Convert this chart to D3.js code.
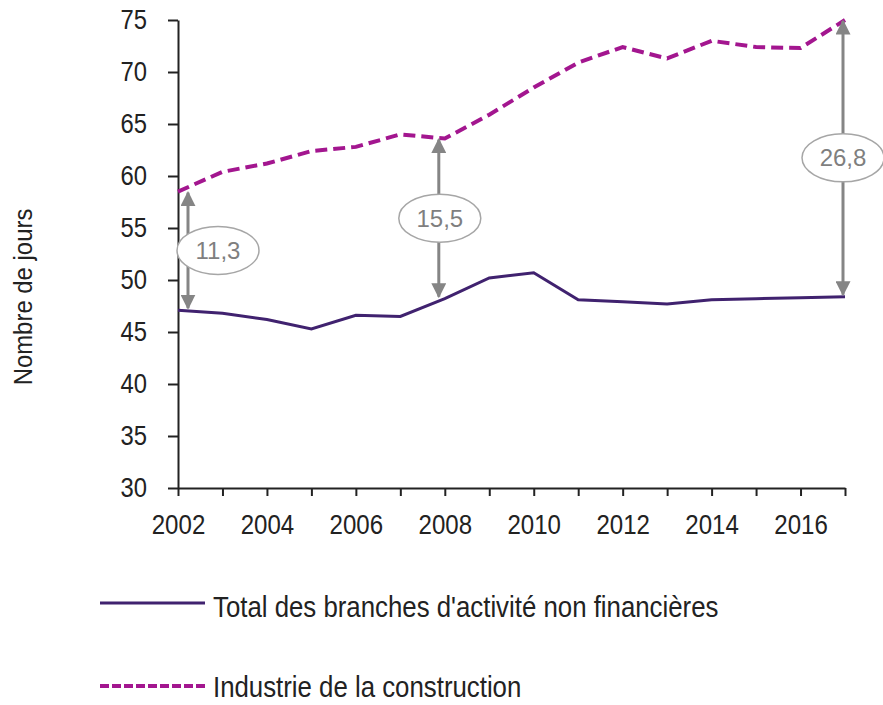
<!DOCTYPE html>
<html>
<head>
<meta charset="utf-8">
<script src="https://cdn.jsdelivr.net/npm/d3@7"></script>
<style>
  body { margin: 0; background: #fff; }
  svg text { font-family: "Liberation Sans", Arial, sans-serif; }
</style>
</head>
<body>
<svg width="883" height="705"></svg>
<script>
// data
const years = [2002, 2003, 2004, 2005, 2006, 2007, 2008, 2009, 2010, 2011, 2012, 2013, 2014, 2015, 2016, 2017];
const totalValues = [47.1, 46.8, 46.2, 45.3, 46.6, 46.5, 48.2, 50.2, 50.7, 48.1, 47.9, 47.7, 48.1, 48.2, 48.3, 48.4];
const constructionValues = [58.5, 60.4, 61.2, 62.4, 62.8, 64.0, 63.6, 65.9, 68.5, 70.9, 72.4, 71.3, 73.0, 72.4, 72.3, 75.0];
const yTicks = [30, 35, 40, 45, 50, 55, 60, 65, 70, 75];
const xLabelYears = [2002, 2004, 2006, 2008, 2010, 2012, 2014, 2016];
const gapYears = [2002, 2008, 2017];
const gapLabels = ["11,3", "15,5", "26,8"];
const seriesNames = ["Total des branches d'activité non financières", "Industrie de la construction"];

const COLORS = {total: '#40226f', construction: '#a3168f', arrow: '#858585'};

const svg = d3.select('svg');

const x = d3.scaleLinear().domain([2002, 2017]).range([178, 845]);
const y = d3.scaleLinear().domain([30, 75]).range([488, 20]);

// narrow the text a bit, like the reference
function squeeze(sel, s) {
  sel.each(function() {
    const t = d3.select(this);
    const tx = +t.attr('x') || 0, ty = +t.attr('y') || 0;
    t.attr('x', 0).attr('y', 0).attr('transform', `translate(${tx},${ty}) scale(${s},1)`);
  });
}

// axes
const yAxis = svg.append('g')
.attr('transform', 'translate(178,0)')
.call(d3.axisLeft(y).tickValues(yTicks).tickSize(10).tickSizeOuter(0).tickPadding(21))
;
const xAxis = svg.append('g')
.attr('transform', 'translate(0,488)')
.call(d3.axisBottom(x).tickValues(years).tickSize(8).tickSizeOuter(0).tickPadding(18)
  .tickFormat(d => xLabelYears.includes(d) ? d : ''))
;
[yAxis, xAxis].forEach(a => {
  a.select('.domain').attr('stroke', '#222').attr('stroke-width', 2);
  a.selectAll('.tick line').attr('stroke', '#222').attr('stroke-width', 2);
  a.selectAll('.tick text').attr('fill', '#222').style('font-size', '28px');
});
squeeze(yAxis.selectAll('.tick text'), 0.85);
squeeze(xAxis.selectAll('.tick text'), 0.86);

// y title
svg.append('text')
.attr('transform', 'translate(32,297) rotate(-90) scale(0.92,1)')
.attr('text-anchor', 'middle')
.attr('fill', '#222')
.style('font-size', '26px')
.text('Nombre de jours')
;

// lines
const line = d3.line().x((d, i) => x(years[i])).y(d => y(d));

svg.append('path')
.datum(totalValues)
.attr('d', line)
.attr('fill', 'none')
.attr('stroke', COLORS.total)
.attr('stroke-width', 3)
;

svg.append('path')
.datum(constructionValues)
.attr('d', line)
.attr('fill', 'none')
.attr('stroke', COLORS.construction)
.attr('stroke-width', 4)
.attr('stroke-dasharray', '12,6')
;

// gap arrows
svg.append('defs').append('marker')
.attr('id', 'head')
.attr('viewBox', '0 0 10 10')
.attr('refX', 9).attr('refY', 5)
.attr('markerWidth', 5).attr('markerHeight', 5)
.attr('markerUnits', 'strokeWidth')
.attr('orient', 'auto-start-reverse')
.append('path')
.attr('d', 'M0,0 L10,5 L0,10 Z')
.attr('fill', COLORS.arrow)
;

const arrowDx = [10, -6, -2];
const labelDx = [40, -5, -2];
gapYears.forEach((yr, k) => {
  const i = years.indexOf(yr);
  const ax = x(yr) + arrowDx[k];
  const y1 = y(constructionValues[i]) + 1;
  const y2 = y(totalValues[i]) - 2;
  svg.append('line')
  .attr('x1', ax).attr('x2', ax)
  .attr('y1', y2).attr('y2', y1)
  .attr('stroke', COLORS.arrow)
  .attr('stroke-width', 3)
  .attr('marker-start', 'url(#head)')
  .attr('marker-end', 'url(#head)')
  ;
  const cy = (y1 + y2) / 2;
  const cx = x(yr) + labelDx[k];
  svg.append('ellipse')
  .attr('cx', cx).attr('cy', cy)
  .attr('rx', 41).attr('ry', 24)
  .attr('fill', 'white')
  .attr('stroke', '#a6a6a6')
  .attr('stroke-width', 1.5)
  ;
  svg.append('text')
  .attr('x', cx).attr('y', cy)
  .attr('dy', '0.36em')
  .attr('text-anchor', 'middle')
  .attr('fill', '#7f7f7f')
  .style('font-size', '24px')
  .text(gapLabels[k])
  ;
});

// legend
const legend = svg.append('g');
const legendY = [603, 686];
const legendTextY = [617, 697];
seriesNames.forEach((name, k) => {
  legend.append('line')
  .attr('x1', 100).attr('x2', 205)
  .attr('y1', legendY[k]).attr('y2', legendY[k])
  .attr('stroke', k === 0 ? COLORS.total : COLORS.construction)
  .attr('stroke-width', k === 0 ? 3 : 4)
  .attr('stroke-dasharray', k === 0 ? null : '9,3')
  ;
  const t = legend.append('text')
  .attr('x', 213).attr('y', legendTextY[k])
  .attr('fill', '#222')
  .style('font-size', '29px')
  .text(name)
  ;
  squeeze(t, 0.89);
});
</script>
</body>
</html>
